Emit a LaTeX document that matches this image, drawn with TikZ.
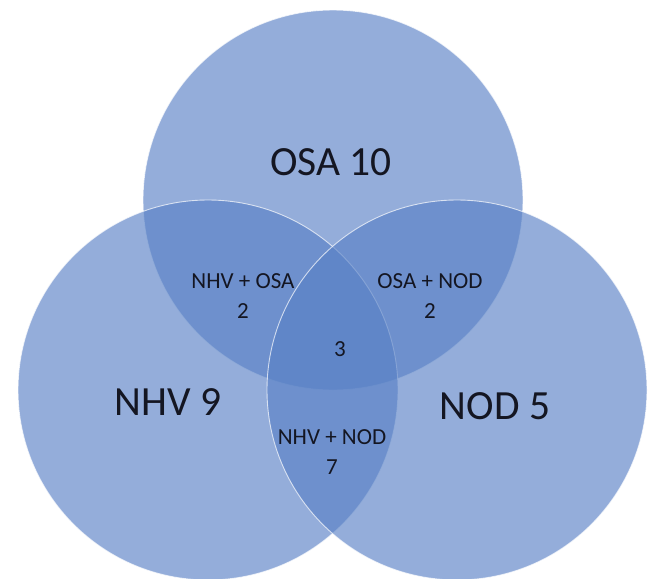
\documentclass[tikz,border=0pt]{standalone}
\usepackage{fontspec}
\setmainfont{Carlito}
\definecolor{vennblue}{RGB}{89,129,198}
\definecolor{txt}{RGB}{20,22,34}
\begin{document}
\begin{tikzpicture}[x=1pt,y=-1pt,
  venn/.style={circle,minimum size=380pt,inner sep=0pt,fill=vennblue,fill opacity=0.645,draw=white,draw opacity=0.7,line width=0.9pt},
  big/.style={text=txt,font=\fontsize{41.5}{48}\selectfont,inner sep=0pt},
  small/.style={text=txt,font=\fontsize{23}{26}\selectfont,inner sep=0pt}]
\fill[white] (0,0) rectangle (649,579);
\useasboundingbox (0,0) rectangle (649,579);
\node[venn] (osa) at (333,200) {};
\node[venn] (nhv) at (208,390) {};
\node[venn] (nod) at (457,390) {};
\node[big] (osal) at (331,162) {OSA 10};
\node[big] (nhvl) at (168,402) {NHV 9};
\node[big] (nodl) at (495,406) {NOD 5};
\node[small] (no) at (243,281) {NHV + OSA};
\node[small] (non) at (243,311) {2};
\node[small] (on) at (430,281) {OSA + NOD};
\node[small] (onn) at (430,311) {2};
\node[small] (all) at (340,349) {3};
\node[small] (nn) at (332,437) {NHV + NOD};
\node[small] (nnn) at (332,467) {7};
\end{tikzpicture}
\end{document}
